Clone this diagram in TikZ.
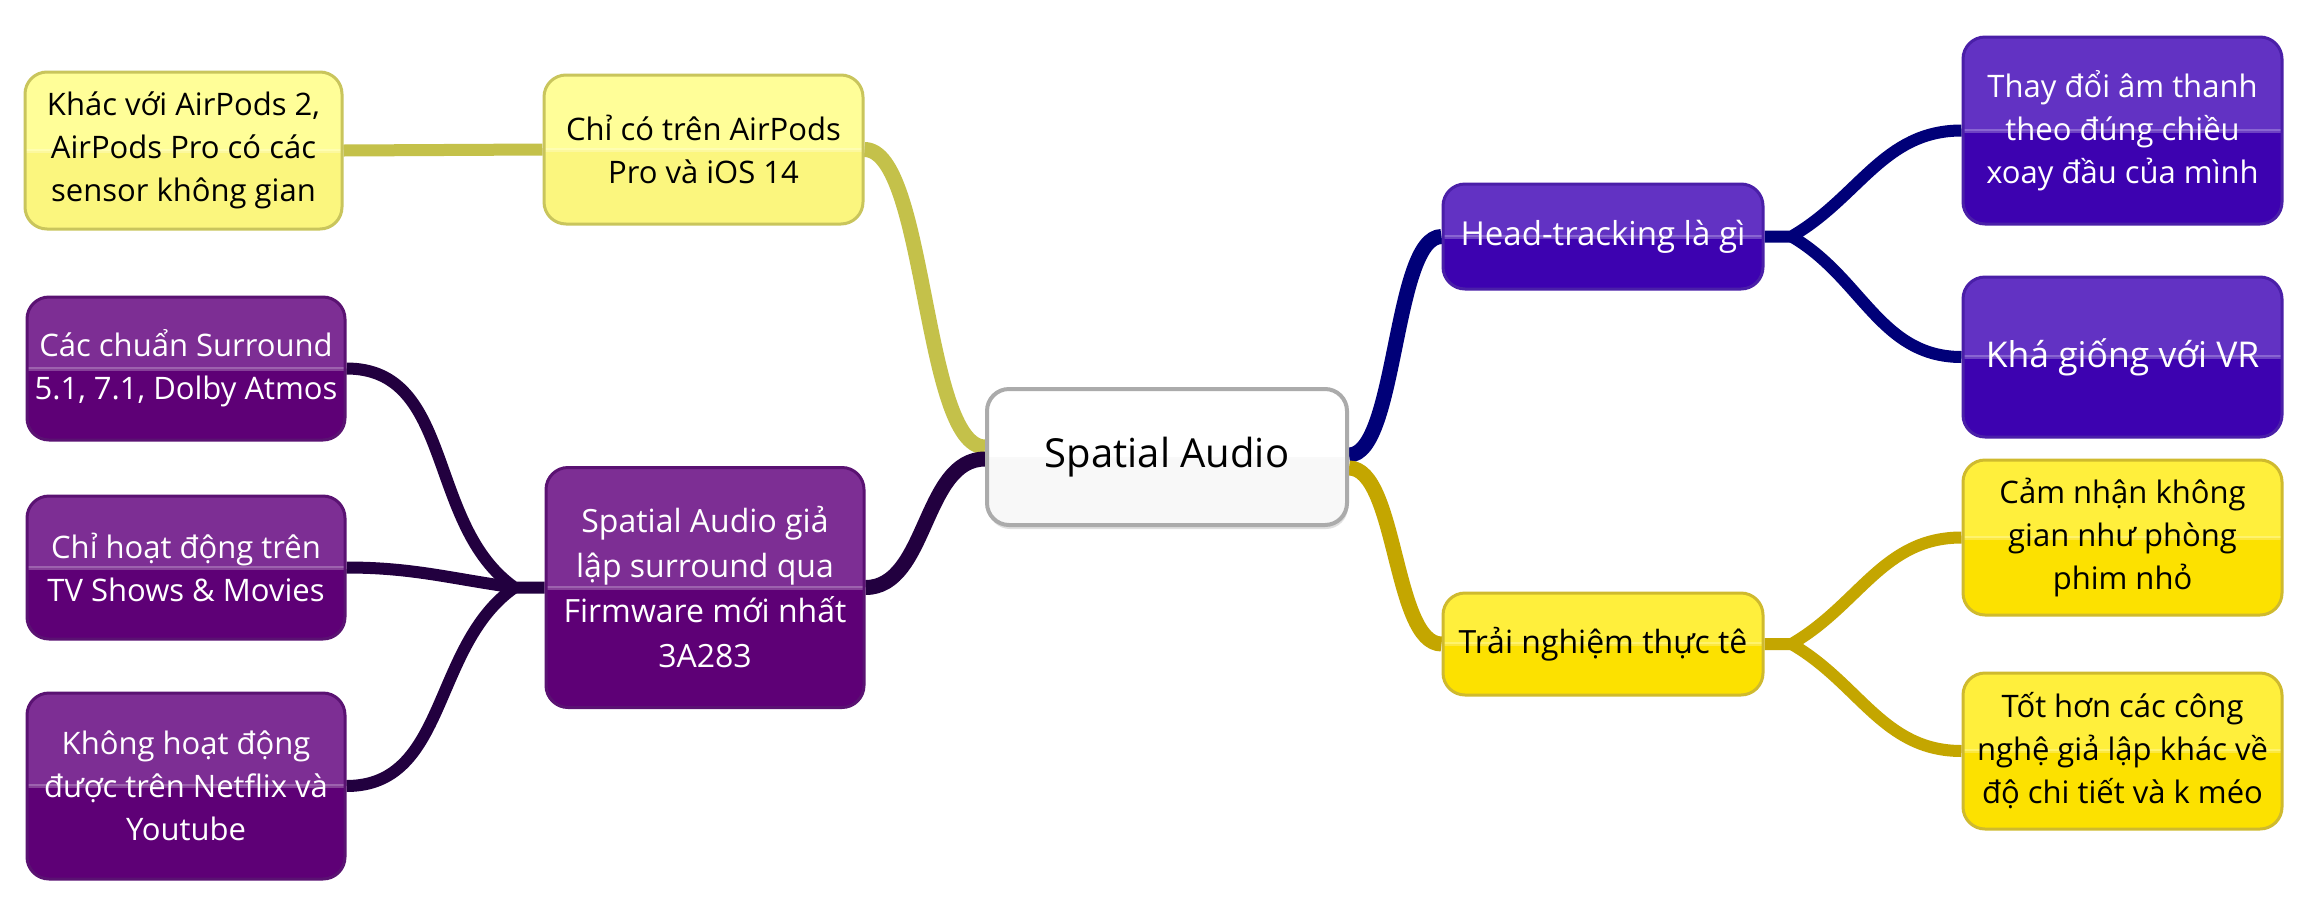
\documentclass[tikz,border=0pt]{standalone}
\usepackage{fontspec}
\setmainfont{Open Sans}
\usetikzlibrary{backgrounds,shadows}
\definecolor{yltop}{HTML}{FFFE98}
\definecolor{ylbot}{HTML}{FBF67E}
\definecolor{ylbord}{HTML}{C9C55C}
\definecolor{pptop}{HTML}{7D2E94}
\definecolor{ppbot}{HTML}{5E0076}
\definecolor{ppbord}{HTML}{5A1272}
\definecolor{intop}{HTML}{6232C3}
\definecolor{inbot}{HTML}{3D02B0}
\definecolor{inbord}{HTML}{4A1FA8}
\definecolor{gdtop}{HTML}{FFEF3C}
\definecolor{gdbot}{HTML}{FCE100}
\definecolor{gdbord}{HTML}{CFBA2E}
\definecolor{rtbot}{HTML}{F8F8F8}
\definecolor{rtbord}{HTML}{ABABAB}
\definecolor{cyel}{HTML}{C4C14A}
\definecolor{cpur}{HTML}{22003F}
\definecolor{cnav}{HTML}{000078}
\definecolor{cgld}{HTML}{C4A600}
\begin{document}
\begin{tikzpicture}[x=1pt,y=1pt,
  glossy/.style n args={3}{path picture={
      \fill[#1, sharp corners] (path picture bounding box.north west) rectangle (path picture bounding box.east);
      \fill[#2, sharp corners] (path picture bounding box.west) rectangle (path picture bounding box.south east);
      \fill[white, opacity=0.25, sharp corners] ([yshift=-2pt]path picture bounding box.west) rectangle ([yshift=2pt]path picture bounding box.east);
    }, draw=#3},
  box/.style={rounded corners=22pt, line width=3pt, align=center, inner sep=2pt,
    font=\fontsize{31}{43}\selectfont},
  ylight/.style={box, glossy={yltop}{ylbot}{ylbord}, text=black},
  purp/.style={box, glossy={pptop}{ppbot}{ppbord}, text=white},
  indi/.style={box, glossy={intop}{inbot}{inbord}, text=white},
  gold/.style={box, glossy={gdtop}{gdbot}{gdbord}, text=black},
  rootbox/.style={box, glossy={white}{rtbot}{rtbord}, line width=4pt, text=black,
    font=\fontsize{40}{48}\selectfont,
    drop shadow={shadow xshift=1pt, shadow yshift=-4pt, opacity=0.25}},
  conn/.style={line width=15pt, line join=round},
  conntwo/.style={line width=12pt, line join=round}
]
\useasboundingbox (0,0) rectangle (2313,-911);

\node[rootbox, minimum width=360pt, minimum height=136pt] (root) at (1167,-457) {Spatial Audio};

\node[ylight, minimum width=317pt, minimum height=157pt] (khac) at (183.5,-150.5)
  {Khác với AirPods 2,\\AirPods Pro có các\\sensor không gian};
\node[ylight, minimum width=319pt, minimum height=149pt] (chico) at (703.5,-149.5)
  {Chỉ có trên AirPods\\Pro và iOS 14};

\node[purp, minimum width=318pt, minimum height=143pt] (cacchuan) at (186,-368.5)
  {Các chuẩn Surround\\5.1, 7.1, Dolby Atmos};
\node[purp, minimum width=318pt, minimum height=143pt] (chihd) at (186,-567.5)
  {Chỉ hoạt động trên\\TV Shows \& Movies};
\node[purp, minimum width=318pt, minimum height=186pt] (khonghd) at (186,-786)
  {Không hoạt động\\được trên Netflix và\\Youtube};
\node[purp, minimum width=318pt, minimum height=240pt, font=\fontsize{32}{45}\selectfont] (gialap) at (705,-587.5)
  {Spatial Audio giả\\lập surround qua\\Firmware mới nhất\\3A283};

\node[indi, minimum width=320pt, minimum height=105pt, font=\fontsize{33}{45}\selectfont] (head) at (1603,-236.5)
  {Head-tracking là gì};
\node[indi, minimum width=319pt, minimum height=187pt] (thay) at (2122.5,-130.5)
  {Thay đổi âm thanh\\theo đúng chiều\\xoay đầu của mình};
\node[indi, minimum width=319pt, minimum height=160pt, font=\fontsize{35.5}{48}\selectfont] (kha) at (2122.5,-357)
  {Khá giống với VR};

\node[gold, minimum width=320pt, minimum height=102pt, font=\fontsize{32}{44}\selectfont] (trai) at (1603,-644)
  {Trải nghiệm thực tê};
\node[gold, minimum width=319pt, minimum height=155pt] (cam) at (2122.5,-537.5)
  {Cảm nhận không\\gian như phòng\\phim nhỏ};
\node[gold, minimum width=319pt, minimum height=156pt] (tot) at (2122.5,-751)
  {Tốt hơn các công\\nghệ giả lập khác về\\độ chi tiết và k méo};

\begin{scope}[on background layer]
  \fill[white] (0,0) rectangle (2313,-911);
  % root branches
  \draw[conn, cyel] ([yshift=10pt]root.west) .. controls +(-62,0) and +(62,0) .. (chico.east);
  \draw[conn, cpur] ([yshift=-2pt]root.west) .. controls +(-62,0) and +(62,0) .. (gialap.east);
  \draw[conn, cnav] ([yshift=2pt]root.east) .. controls +(48,0) and +(-48,0) .. (head.west);
  \draw[conn, cgld] ([yshift=-11pt]root.east) .. controls +(48,0) and +(-48,0) .. (trai.west);
  % yellow
  \draw[conntwo, cyel] (khac.east) -- (chico.west);
  % purple
  \draw[conntwo, cpur] (gialap.west) -- ++(-30,0) coordinate (jg) to[out=145,in=0] (cacchuan.east);
  \draw[conntwo, cpur] (jg) to[out=172,in=0] (chihd.east);
  \draw[conntwo, cpur] (jg) to[out=215,in=0] (khonghd.east);
  % navy
  \draw[conntwo, cnav] (head.east) -- ++(27,0) coordinate (jh) to[out=30,in=180] (thay.west);
  \draw[conntwo, cnav] (jh) to[out=-30,in=180] (kha.west);
  % gold
  \draw[conntwo, cgld] (trai.east) -- ++(27,0) coordinate (jt) to[out=30,in=180] (cam.west);
  \draw[conntwo, cgld] (jt) to[out=-30,in=180] (tot.west);
\end{scope}
\end{tikzpicture}
\end{document}
